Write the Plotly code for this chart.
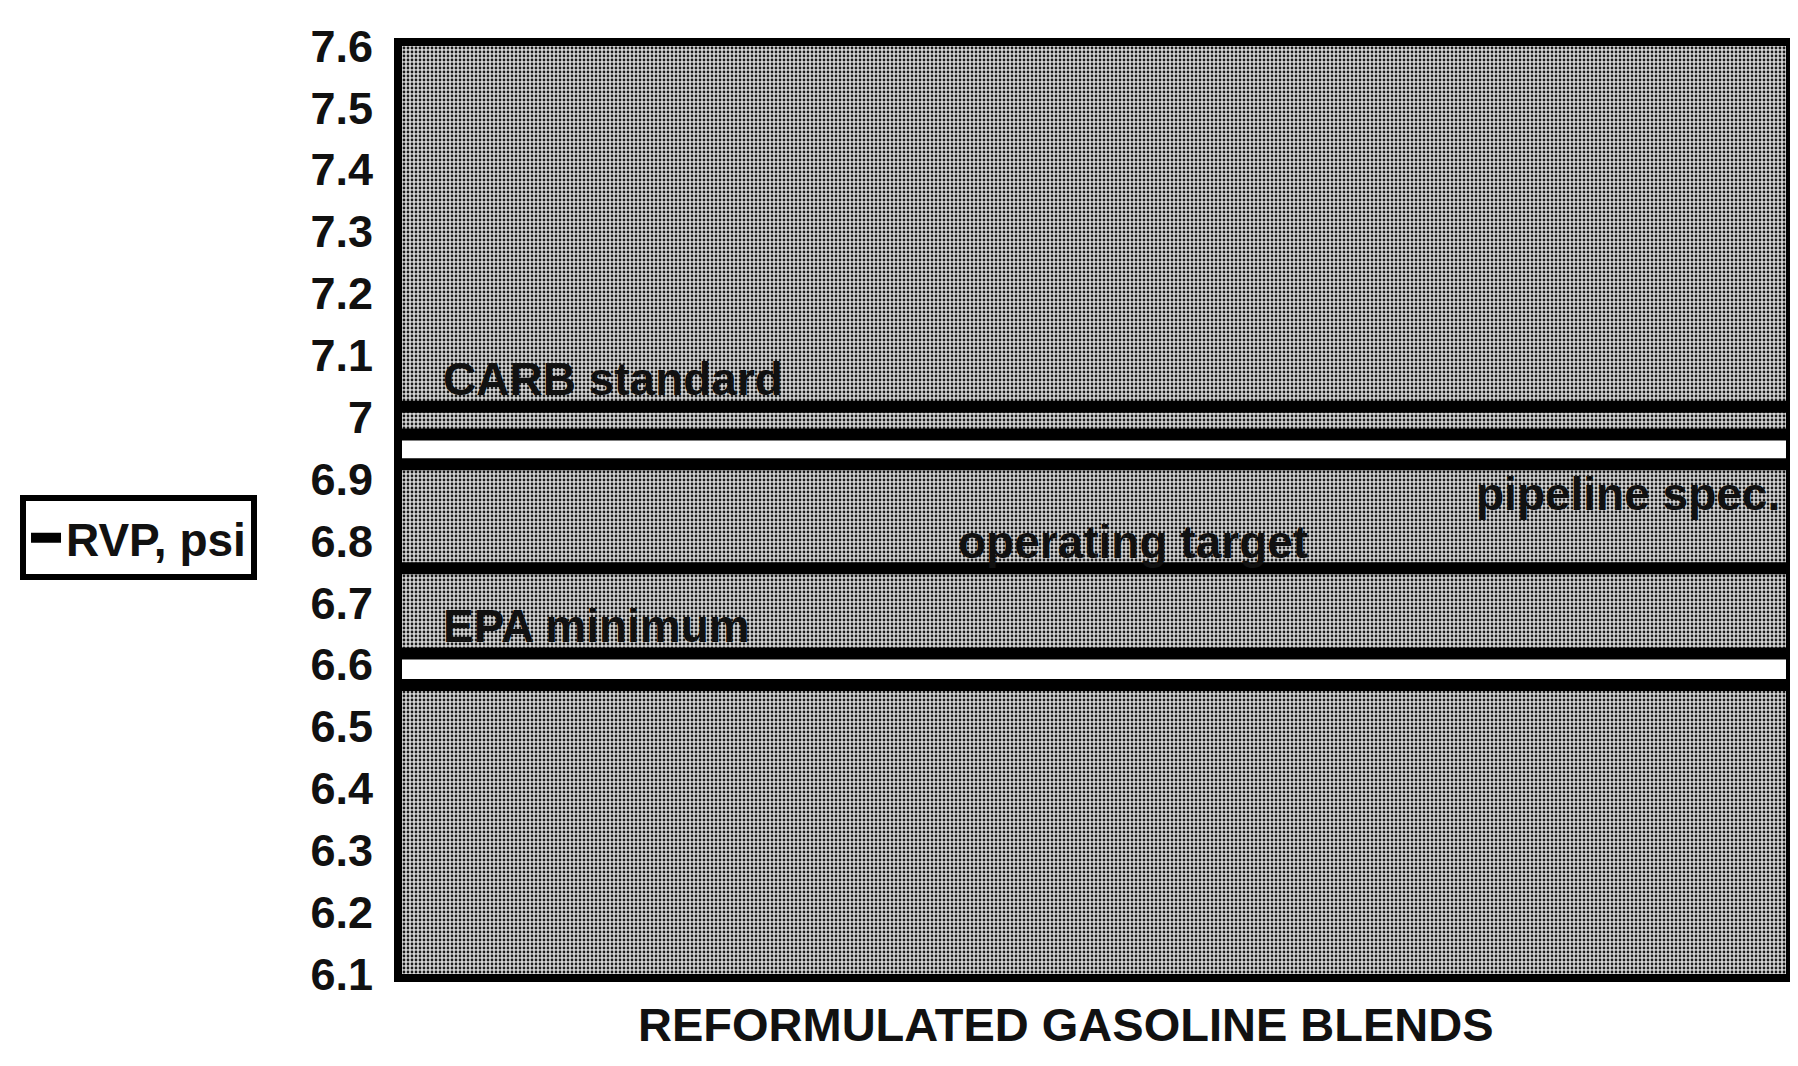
import plotly.graph_objects as go

# ---- data ----
x_span = [0, 1]
threshold_names = ["CARB standard", "pipeline spec.", "operating target", "EPA minimum"]
band_upper = [7.017, 6.972, 6.756, 6.618]
band_lower = [6.972, 6.924, 6.756, 6.567]
y_ticks = [6.1, 6.2, 6.3, 6.4, 6.5, 6.6, 6.7, 6.8, 6.9, 7.0, 7.1, 7.2, 7.3, 7.4, 7.5, 7.6]
y_tick_labels = ["6.1", "6.2", "6.3", "6.4", "6.5", "6.6", "6.7", "6.8", "6.9", "7", "7.1", "7.2", "7.3", "7.4", "7.5", "7.6"]
x_title = "REFORMULATED GASOLINE BLENDS"
series_name = "RVP, psi"
y_range = [6.1, 7.6]

W, H = 1798, 1066
FONT = "Liberation Sans, Arial, sans-serif"
LW = 12

fig = go.Figure()

# halftone background
fig.add_trace(go.Scatter(
    x=[x_span[0], x_span[1], x_span[1], x_span[0], x_span[0]],
    y=[y_range[0], y_range[0], y_range[1], y_range[1], y_range[0]],
    fill="toself", mode="none", showlegend=False, hoverinfo="skip",
    fillcolor="#b0b0b0",
    fillpattern=dict(shape=".", size=4, solidity=0.38, fgcolor="#1a1a1a", bgcolor="#d6d6d6", fillmode="replace"),
))

# white bands (pipeline spec., EPA minimum)
for i in (1, 3):
    fig.add_trace(go.Scatter(x=x_span, y=[band_lower[i]] * 2, mode="lines",
                             line=dict(width=0), showlegend=False, hoverinfo="skip"))
    fig.add_trace(go.Scatter(x=x_span, y=[band_upper[i]] * 2, mode="lines",
                             line=dict(width=0), fill="tonexty", fillcolor="white",
                             showlegend=False, hoverinfo="skip"))

# black lines
edges = []
for u, l in zip(band_upper, band_lower):
    for v in (u, l):
        if v not in edges:
            edges.append(v)
for k, v in enumerate(edges):
    fig.add_trace(go.Scatter(x=x_span, y=[v] * 2, mode="lines",
                             line=dict(color="black", width=LW),
                             name=series_name, legendgroup="rvp",
                             showlegend=(k == 0), hoverinfo="skip"))

# labels
ann_font = dict(family=FONT, size=46, color="#111", weight="bold")
fig.add_annotation(x=0.028, y=band_upper[0], xref="paper", yref="y", text=threshold_names[0],
                   showarrow=False, xanchor="left", yanchor="bottom", font=ann_font, yshift=0)
fig.add_annotation(x=0.997, y=band_lower[1], xref="paper", yref="y", text=threshold_names[1],
                   showarrow=False, xanchor="right", yanchor="top", font=ann_font, yshift=-2)
fig.add_annotation(x=0.4, y=band_upper[2], xref="paper", yref="y", text=threshold_names[2],
                   showarrow=False, xanchor="left", yanchor="bottom", font=ann_font, yshift=-2)
fig.add_annotation(x=0.028, y=band_upper[3], xref="paper", yref="y", text=threshold_names[3],
                   showarrow=False, xanchor="left", yanchor="bottom", font=ann_font, yshift=0)

# x-axis title
fig.add_annotation(x=0.48, y=0, xref="paper", yref="paper", text=x_title,
                   showarrow=False, xanchor="center", yanchor="top", yshift=-22,
                   font=dict(family=FONT, size=47, color="#111", weight="bold"))

fig.update_layout(
    width=W, height=H,
    margin=dict(l=388, r=14, t=38, b=100),
    paper_bgcolor="white", plot_bgcolor="#b8b8b8",
    font=dict(family=FONT, color="#111"),
    showlegend=True,
    legend=dict(x=-0.276, y=0.47, xanchor="left", yanchor="middle",
                bgcolor="white", bordercolor="black", borderwidth=6,
                font=dict(family=FONT, size=46, color="#111", weight="bold"),
                itemwidth=30),
    xaxis=dict(range=x_span, showgrid=False, zeroline=False, showticklabels=False, ticks="",
               showline=True, linecolor="black", linewidth=8, mirror=True),
    yaxis=dict(range=y_range, showgrid=False, zeroline=False, ticks="",
               tickvals=y_ticks, ticktext=y_tick_labels,
               tickfont=dict(family=FONT, size=45, color="#111", weight="bold"),
               ticklabelstandoff=12,
               showline=True, linecolor="black", linewidth=8, mirror=True),
)

fig.write_html("out.html")
